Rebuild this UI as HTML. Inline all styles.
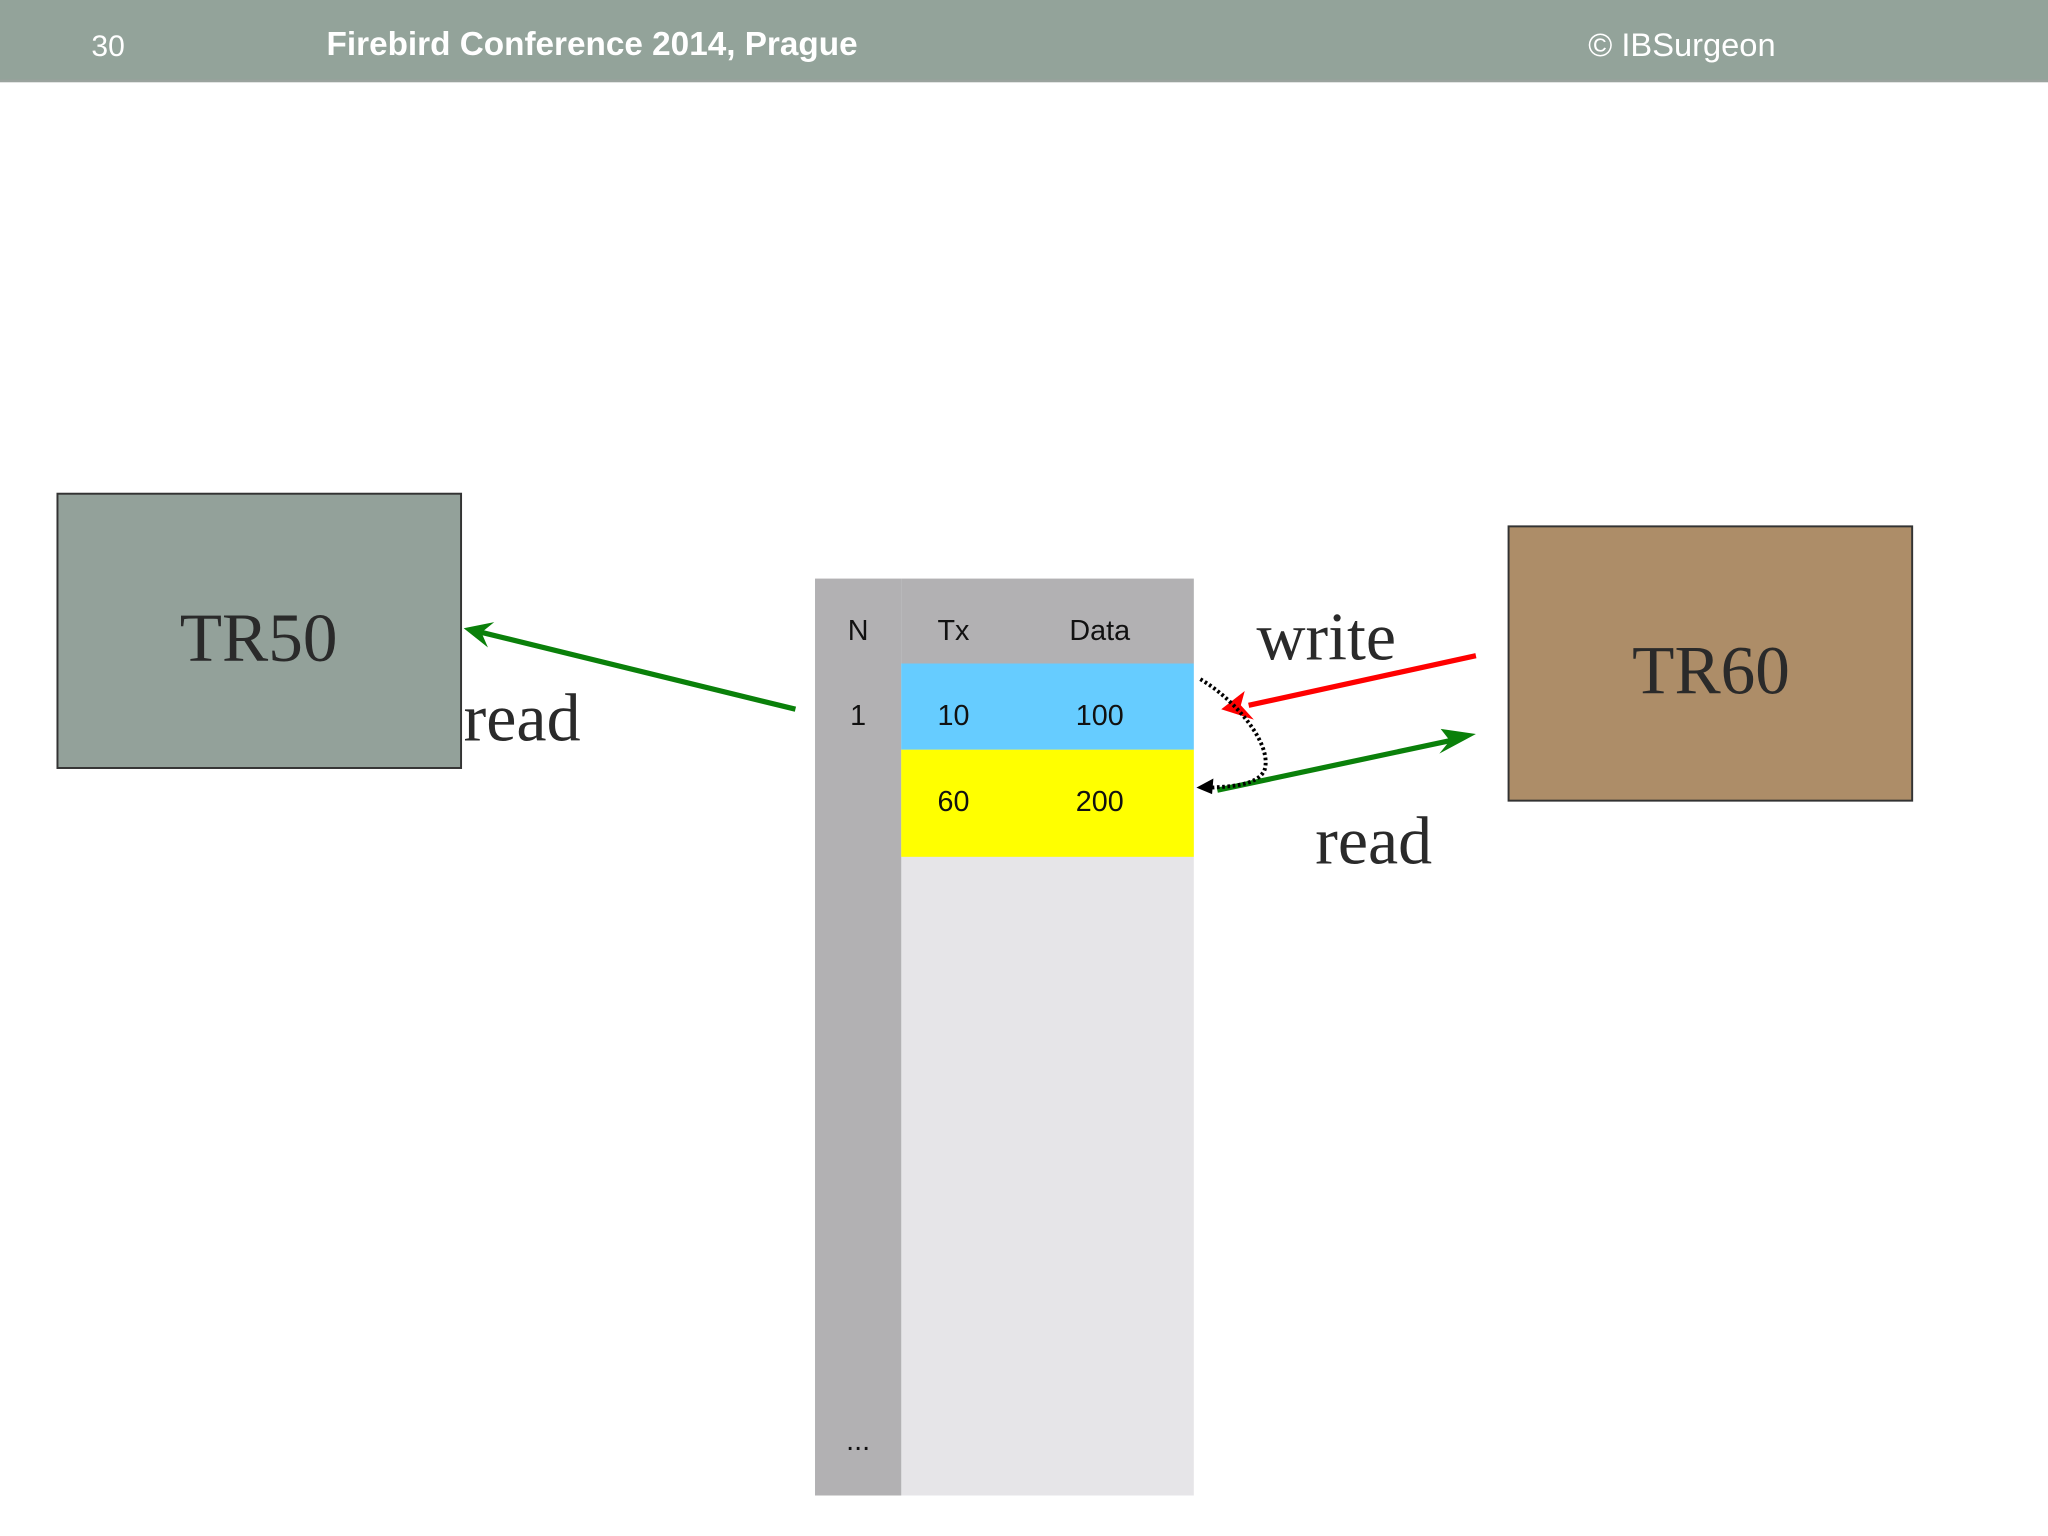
<!DOCTYPE html>
<html><head><meta charset="utf-8"><style>html,body{margin:0;padding:0;background:#fff}svg{display:block}</style></head>
<body>
<svg width="2048" height="1536" viewBox="0 0 1568 1176" xmlns="http://www.w3.org/2000/svg">
<rect x="0" y="0" width="1568" height="62" fill="#93a39a"/>
<rect x="0" y="61" width="1568" height="2" fill="#9aa39e"/>
<g font-family="Liberation Sans, sans-serif" fill="#fff" font-size="23">
<text x="70" y="43">30</text>
<text x="250" y="42" font-weight="bold" font-size="25.5">Firebird Conference 2014, Prague</text>
<text x="1216" y="43" font-size="25">© IBSurgeon</text>
</g>
<rect x="44" y="378" width="309" height="210" fill="#93a19a" stroke="#333" stroke-width="1.5"/>
<text x="198" y="506" text-anchor="middle" font-family="Liberation Serif, serif" font-size="53" fill="#2a2a2a">TR50</text>
<rect x="1155" y="403" width="309" height="210" fill="#ad8d68" stroke="#333" stroke-width="1.5"/>
<text x="1310" y="531" text-anchor="middle" font-family="Liberation Serif, serif" font-size="53" fill="#2a2a2a">TR60</text>
<rect x="624" y="443" width="290" height="702" fill="#e6e5e8"/>
<rect x="624" y="443" width="66" height="702" fill="#b2b1b3"/>
<rect x="690" y="443" width="224" height="65" fill="#b2b1b3"/>
<rect x="690" y="508" width="224" height="66" fill="#66ccff"/>
<rect x="690" y="574" width="224" height="82" fill="#ffff00"/>
<g font-family="Liberation Sans, sans-serif" font-size="22" fill="#111" text-anchor="middle">
<text x="657" y="490">N</text><text x="730" y="490">Tx</text><text x="842" y="490">Data</text>
<text x="657" y="555">1</text><text x="730" y="555">10</text><text x="842" y="555">100</text>
<text x="730" y="621">60</text><text x="842" y="621">200</text>
<text x="657" y="1110">...</text>
</g>
<line x1="609" y1="543" x2="368" y2="484" stroke="#0a800a" stroke-width="4"/>
<path d="M355,481 L378.4,476.3 L368.6,484.3 L373.6,495.7 Z" fill="#0a800a"/>
<line x1="932" y1="605" x2="1120" y2="565" stroke="#0a800a" stroke-width="4"/>
<path d="M1130,562 L1103,558 L1110,567 L1102,577 Z" fill="#0a800a"/>
<line x1="1130" y1="502" x2="956" y2="540" stroke="#f00" stroke-width="4"/>
<path d="M935,543 L953,529 L950,540 L960,551 Z" fill="#f00"/>
<path d="M919,520 C945,535 975,570 968,590 C962,602 940,602 928,603" fill="none" stroke="#000" stroke-width="3" stroke-dasharray="2,2"/>
<path d="M916,603 L929,596 L928,608 Z" fill="#000"/>
<g font-family="Liberation Serif, serif" font-size="52" fill="#2a2a2a">
<text x="355" y="567">read</text>
<text x="962" y="505">write</text>
<text x="1007" y="661">read</text>
</g>
</svg>
</body></html>
